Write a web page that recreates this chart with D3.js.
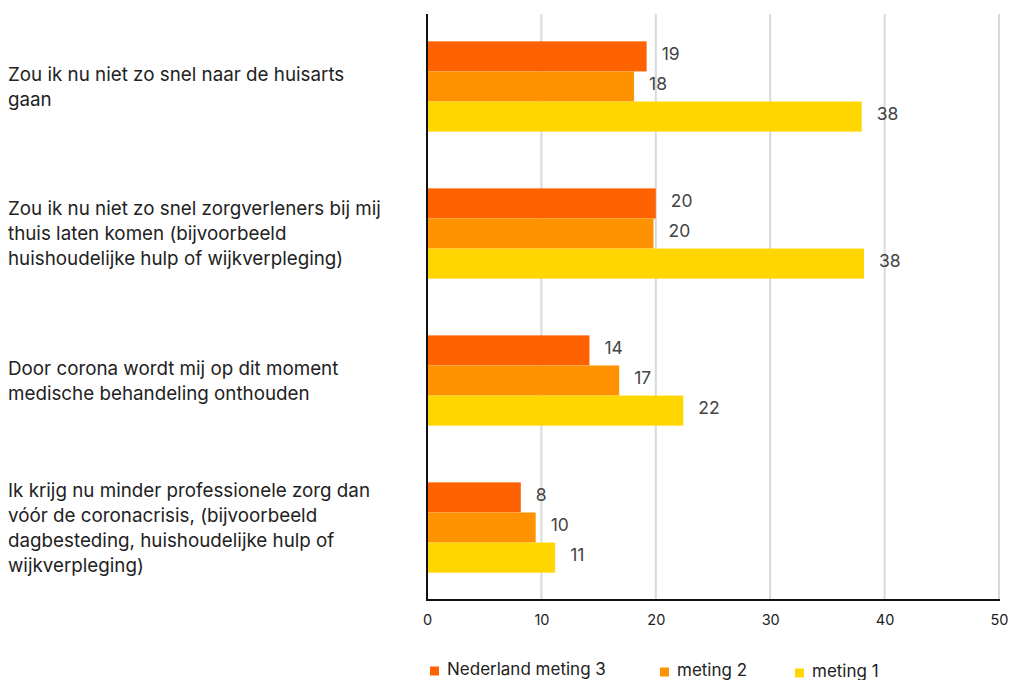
<!DOCTYPE html>
<html><head><meta charset="utf-8">
<script src="https://cdn.jsdelivr.net/npm/d3@7"></script>
<style>body{margin:0;background:#fff;} text{font-family:Inter, "Open Sans", sans-serif;}</style>
</head><body>
<svg id="c" width="1009" height="680"></svg>
<script>
const categories = [
  ["Zou ik nu niet zo snel naar de huisarts", "gaan"],
  ["Zou ik nu niet zo snel zorgverleners bij mij", "thuis laten komen (bijvoorbeeld", "huishoudelijke hulp of wijkverpleging)"],
  ["Door corona wordt mij op dit moment", "medische behandeling onthouden"],
  ["Ik krijg nu minder professionele zorg dan", "vóór de coronacrisis, (bijvoorbeeld", "dagbesteding, huishoudelijke hulp of", "wijkverpleging)"]
];
const seriesNames = ["Nederland meting 3", "meting 2", "meting 1"];
const meting3 = [19.2, 20.0, 14.2, 8.2];
const meting2 = [18.1, 19.8, 16.8, 9.5];
const meting1 = [38.0, 38.2, 22.4, 11.2];
const xTicks = [0, 10, 20, 30, 40, 50];
const colors = ["#ff6200", "#ff9200", "#ffd600"];

(function() {
const series = [meting3, meting2, meting1];
const svg = d3.select("#c");
const mLeft = 427, mRight = 999, mTop = 14, mBottom = 600;

const x = d3.scaleLinear().domain([0, 50]).range([mLeft, mRight]);
const y = d3.scaleBand().domain(d3.range(categories.length)).range([mTop, mBottom]).paddingInner(0.386).paddingOuter(0.186);
const y1 = d3.scaleBand().domain(d3.range(series.length)).range([0, y.bandwidth()]);

svg.append("g").selectAll("line").data(xTicks.slice(1)).join("line")
  .attr("x1", d => x(d)).attr("x2", d => x(d)).attr("y1", mTop).attr("y2", mBottom)
  .attr("stroke", "#d9d9d9").attr("stroke-width", 2);

const groups = svg.append("g").selectAll("g").data(categories).join("g")
  .attr("transform", (d, i) => `translate(0,${y(i)})`);
groups.each(function(cat, i) {
  const g = d3.select(this);
  series.forEach((s, j) => {
    g.append("rect").attr("x", x(0)).attr("y", y1(j))
      .attr("width", x(s[i]) - x(0)).attr("height", y1.bandwidth())
      .attr("fill", colors[j]);
    g.append("text").attr("x", x(s[i]) + 15).attr("y", y1(j) + y1.bandwidth() / 2 - 3)
      .attr("dy", "0.35em").attr("font-size", 17.5).attr("fill", "#444")
      .text(Math.round(s[i]));
  });
  const lh = 25;
  const n = cat.length;
  const t = g.append("text").attr("font-size", 18.8).attr("fill", "#222");
  cat.forEach((line, k) => {
    t.append("tspan").attr("x", 8).attr("y", y.bandwidth() / 2 + (k - (n - 1) / 2) * lh)
      .attr("dy", "0.35em").text(line);
  });
});

svg.append("line").attr("x1", mLeft).attr("x2", mLeft).attr("y1", mTop).attr("y2", mBottom + 1)
  .attr("stroke", "#111").attr("stroke-width", 2);
svg.append("line").attr("x1", mLeft - 1).attr("x2", mRight + 1).attr("y1", mBottom).attr("y2", mBottom)
  .attr("stroke", "#111").attr("stroke-width", 2);

const xAxis = svg.append("g").attr("transform", `translate(0,${mBottom})`)
  .call(d3.axisBottom(x).tickValues(xTicks).tickSize(0).tickPadding(15));
xAxis.select(".domain").remove();
xAxis.selectAll("text").attr("font-size", 14.5).attr("fill", "#222")
  .style("font-family", "Inter, 'Open Sans', sans-serif");

const legX = [430, 660, 795];
const lg = svg.append("g").selectAll("g").data(seriesNames).join("g")
  .attr("transform", (d, i) => `translate(${legX[i]},${671 + i * 1})`);
lg.append("rect").attr("x", 0).attr("y", -4.5).attr("width", 9).attr("height", 9).attr("fill", (d, i) => colors[i]);
lg.append("text").attr("x", 17).attr("y", -2).attr("dy", "0.35em").attr("font-size", 17).attr("fill", "#222").text(d => d);
})();
</script>
</body></html>
